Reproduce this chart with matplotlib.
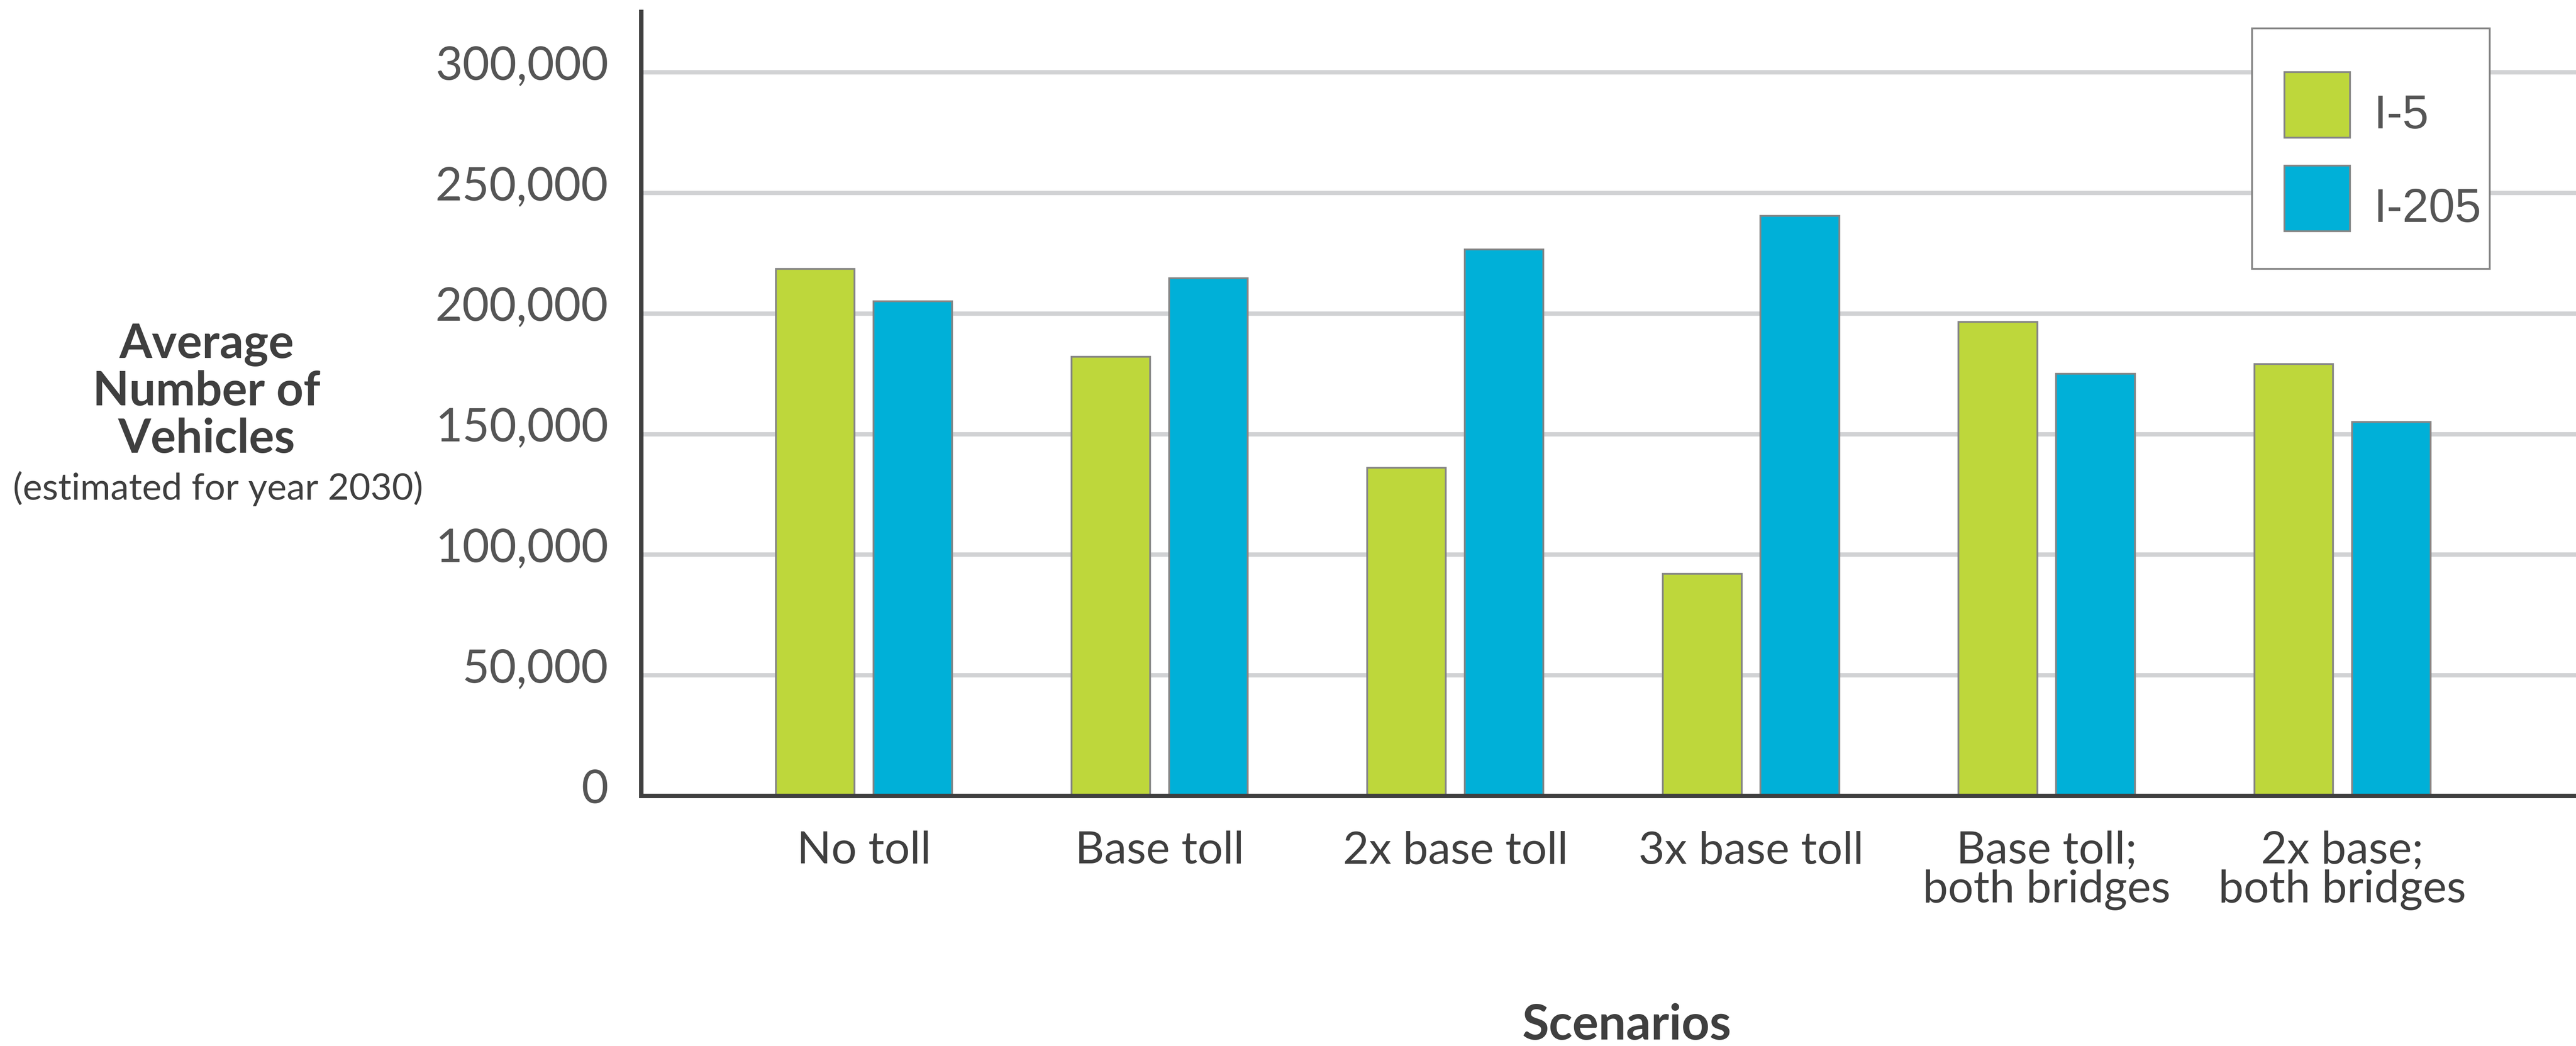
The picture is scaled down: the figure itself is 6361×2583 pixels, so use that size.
import numpy as np
import matplotlib.pyplot as plt
from matplotlib.patches import Rectangle
from matplotlib.transforms import ScaledTranslation

# Average vehicles per scenario (estimated for 2030)
scenarios = ["No toll", "Base toll", "2x base toll", "3x base toll",
             "Base toll;\nboth bridges", "2x base;\nboth bridges"]
i5_vehicles = [218500, 182000, 136000, 92000, 196500, 179000]
i205_vehicles = [205000, 214500, 226500, 240500, 175000, 155000]
y_ticks = [0, 50000, 100000, 150000, 200000, 250000, 300000]
ylabel_lines = ["Average", "Number of", "Vehicles"]

GREEN = "#bed73b"
BLUE = "#00b0d8"
EDGE = "#858585"
DARK = "#3f3f3f"
TEXT = "#555555"
GRID = "#d1d2d4"

plt.rcParams['font.family'] = ['Lato', 'DejaVu Sans']

DPI = 100
W, H = 6361, 2583
fig = plt.figure(figsize=(W / DPI, H / DPI), dpi=DPI)
ax = fig.add_axes([1583 / W, 1 - 1965 / H, 1 - 1583 / W, (1965 - 29) / H])

x = np.arange(len(scenarios))
width = 0.266
offset = 0.165
ax.bar(x - offset, i5_vehicles, width, color=GREEN, edgecolor=EDGE,
       linewidth=3.2, label="I-5", zorder=3)
ax.bar(x + offset, i205_vehicles, width, color=BLUE, edgecolor=EDGE,
       linewidth=3.2, label="I-205", zorder=3)

ax.set_xlim(-0.754, 5.79)
ax.set_ylim(0, 325050)

# axes styling
for side in ["top", "right"]:
    ax.spines[side].set_visible(False)
for side in ["left", "bottom"]:
    ax.spines[side].set_linewidth(7.9)
    ax.spines[side].set_color(DARK)
    ax.spines[side].set_zorder(4)

ax.yaxis.grid(True, color=GRID, linewidth=7.7)
ax.set_axisbelow(True)

ax.set_yticks(y_ticks)
ax.set_yticklabels([f"{v:,}" for v in y_ticks])
ax.set_xticks(x)
ax.set_xticklabels(scenarios, linespacing=0.95)
ax.tick_params(axis="both", length=0)
ax.tick_params(axis="y", pad=58, labelsize=83, labelcolor=TEXT)
ax.tick_params(axis="x", pad=62, labelsize=80, labelcolor=DARK)

# lift the y labels a little above their grid lines
lift = ScaledTranslation(0, 0.24, fig.dpi_scale_trans)
for lbl in ax.get_yticklabels():
    lbl.set_transform(lbl.get_transform() + lift)

# y axis title block
baselines = [884, 1001, 1118]
for line, yb in zip(ylabel_lines, baselines):
    fig.text(510 / W, 1 - yb / H, line, ha="center", va="baseline",
             fontsize=84, fontweight="bold", color=DARK)
fig.text(538 / W, 1 - 1234 / H, "(estimated for year 2030)", ha="center",
         va="baseline", fontsize=65.5, color=DARK)

fig.text(4016 / W, 1 - 2567 / H, "Scenarios", ha="center", va="baseline",
         fontsize=87, fontweight="bold", color=DARK)

# legend: plain box with the entries placed inside it
box = Rectangle((5561 / W, 1 - 664 / H), (6148 - 5561) / W, (664 - 70) / H,
                transform=fig.transFigure, facecolor="white", edgecolor=EDGE,
                linewidth=3.2, zorder=5)
fig.add_artist(box)
handles, labels = ax.get_legend_handles_labels()
leg = fig.legend(handles, labels, loc="upper left",
                 bbox_to_anchor=(5641 / W, 1 - 178 / H),
                 prop={"family": "Liberation Sans", "size": 84},
                 frameon=False, borderpad=0, borderaxespad=0,
                 handlelength=1.39, handleheight=1.76,
                 handletextpad=0.5, labelspacing=0.59)
leg.set_zorder(6)
drop = ScaledTranslation(0, -0.2, fig.dpi_scale_trans)
for t in leg.get_texts():
    t.set_color(TEXT)
    t.set_transform(t.get_transform() + drop)

fig.savefig("out.png", dpi=DPI)
